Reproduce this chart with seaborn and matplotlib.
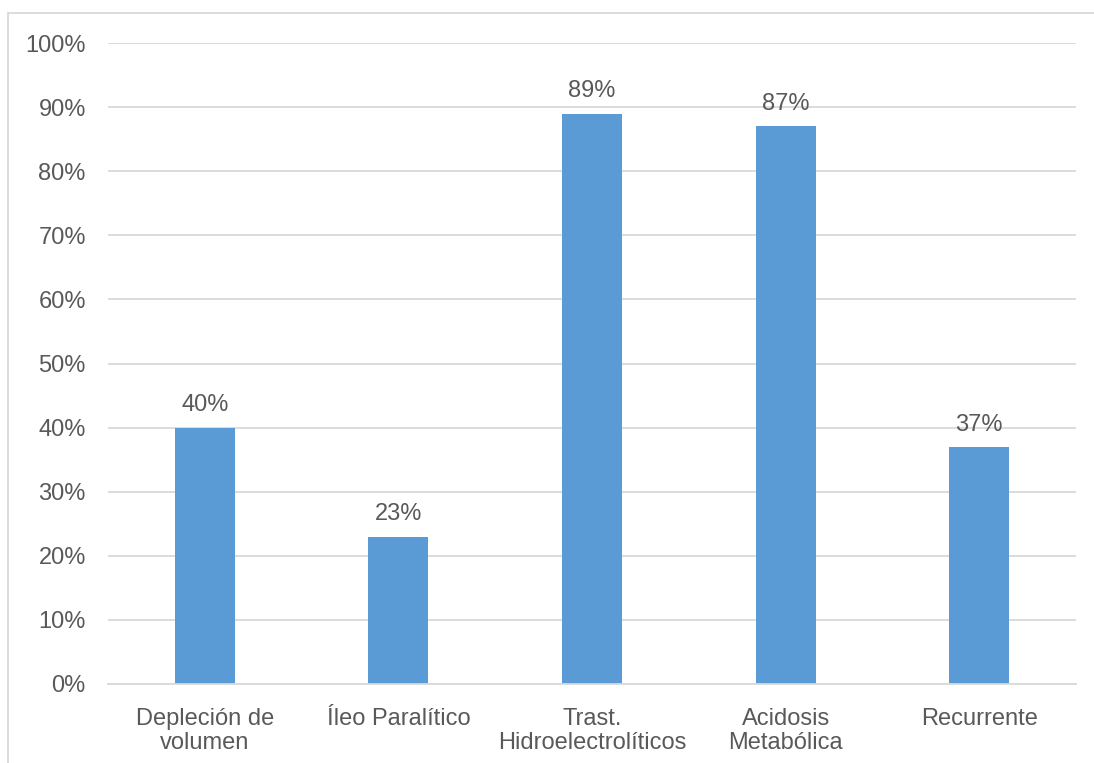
import matplotlib
matplotlib.use("Agg")
import matplotlib.pyplot as plt
import matplotlib.patches as mpatches
from matplotlib.ticker import PercentFormatter
import seaborn as sns
import pandas as pd

categories = ["Depleción de\nvolumen", "Íleo Paralítico", "Trast.\nHidroelectrolíticos",
              "Acidosis\nMetabólica", "Recurrente"]
values = [40, 23, 89, 87, 37]
y_ticks = [0, 10, 20, 30, 40, 50, 60, 70, 80, 90, 100]

bar_color = "#5B9BD5"
text_color = "#595959"
grid_color = "#D9D9D9"

sns.set_theme(style="white")
plt.rcParams["font.family"] = ["Liberation Sans", "DejaVu Sans"]

df = pd.DataFrame({"categoria": categories, "valor": values})

fig = plt.figure(figsize=(10.94, 7.63), dpi=100)
ax = fig.add_axes([108 / 1094, 1 - 684 / 763, (1076 - 108) / 1094, (684 - 43) / 763])

sns.barplot(data=df, x="categoria", y="valor", color=bar_color, width=0.31,
            saturation=1, linewidth=0, ax=ax, zorder=3)

ax.set_ylim(0, 100)
ax.set_xlim(-0.5, len(categories) - 0.5)
ax.set_yticks(y_ticks)
ax.yaxis.set_major_formatter(PercentFormatter(decimals=0))
ax.set_xlabel("")
ax.set_ylabel("")

ax.grid(axis="y", color=grid_color, linewidth=1.3, zorder=0)
ax.grid(axis="x", visible=False)
for side in ["top", "right", "left"]:
    ax.spines[side].set_visible(False)
ax.spines["bottom"].set_color(grid_color)
ax.spines["bottom"].set_linewidth(1.3)
ax.spines["bottom"].set_zorder(4)

ax.tick_params(axis="y", length=0, pad=16, labelsize=17, labelcolor=text_color)
ax.tick_params(axis="x", length=0, pad=17, labelsize=17, labelcolor=text_color)
for lbl in ax.get_xticklabels():
    lbl.set_linespacing(1.12)

for container in ax.containers:
    ax.bar_label(container, labels=[f"{v}%" for v in values], padding=8,
                 fontsize=17, color=text_color)

# light frame around the chart area
fig.patches.append(mpatches.Rectangle((8 / 1094, -0.5), 2, 0.5 + 1 - 13 / 763,
                                      transform=fig.transFigure, fill=False,
                                      edgecolor=grid_color, linewidth=1.3))

fig.savefig("out.png", dpi=100)
